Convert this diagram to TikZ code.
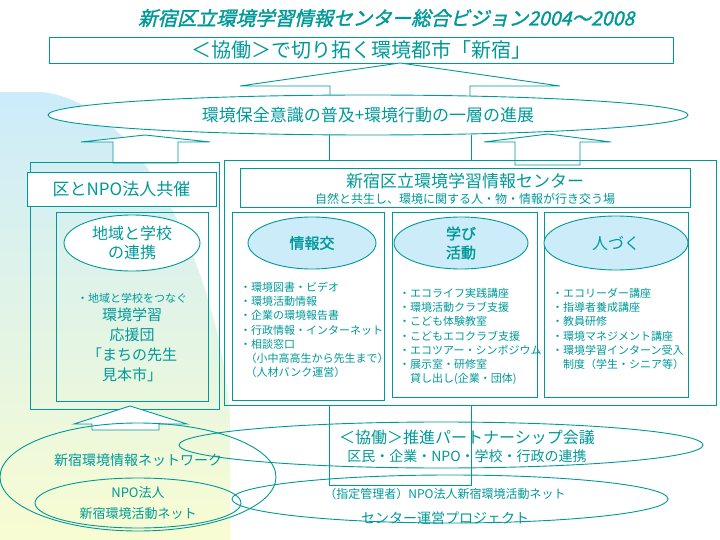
\documentclass[tikz,border=0pt]{standalone}
\usepackage{fontspec}
\usetikzlibrary{shapes.geometric}
\setmainfont{Noto Sans CJK JP}
\newfontfamily\jpb[FakeBold=1.5]{Noto Sans CJK JP}
\definecolor{tl}{HTML}{009999}
\definecolor{lb}{HTML}{CCECFA}
\definecolor{ly}{HTML}{F8FCD2}
\begin{document}
\begin{tikzpicture}[x=1pt,y=-1pt,
  ln/.style={draw=tl,line width=0.9pt},
  bx/.style={ln,fill=white},
  el/.style={ln,ellipse},
  tx/.style={text=tl,inner sep=0pt,align=center},
  ls/.style={text=tl,inner sep=0pt,align=left,anchor=north west,font=\fontsize{11}{14.2}\selectfont}]
\useasboundingbox (0,0) rectangle (720,540);
\fill[white] (0,0) rectangle (720,540);
\shade[top color=lb,bottom color=ly,middle color=lb!50!ly] (0,92) -- (40,92) .. controls (150,100) and (225,300) .. (230,420) -- (230,540) -- (0,540) -- cycle;
% title
\node[tx,font=\jpb\fontsize{19.5}{19.5}\selectfont,xslant=0.25,transform shape] (title) at (388,18) {新宿区立環境学習情報センター総合ビジョン2004～2008};
\node[bx,minimum width=624,minimum height=26,text=tl,font=\fontsize{20}{20}\selectfont] (top) at (361,50) {＜協働＞で切り拓く環境都市「新宿」};
% arrow 1
\draw[ln,fill=white] (400,63) -- (560,86) -- (470,86) -- (470,97) -- (330,97) -- (330,86) -- (240,86) -- cycle;
\node[el,fill=white,minimum width=640,minimum height=40,text=tl,font=\fontsize{17}{17}\selectfont] (vis) at (368,115) {環境保全意識の普及+環境行動の一層の進展};
% left arrow
\draw[ln,fill=white] (145,135) -- (210,142) -- (178,142) -- (178,163) -- (113,163) -- (113,142) -- (81,142) -- cycle;
% right arrow
\draw[ln,fill=white] (548,134) -- (611,142) -- (580,142) -- (580,165) -- (515,165) -- (515,142) -- (484,142) -- cycle;
% connectors from vis
\coordinate (c1) at (329,135);\coordinate (c2) at (471,135);
\draw[ln] (c1) -- (329,160) (c2) -- (471,160);
% left box
\draw[ln] (30,162) rectangle (219,409);
\node[bx,minimum width=189,minimum height=34,text=tl,font=\fontsize{17}{17}\selectfont] (kyo) at (121.5,189) {区とNPO法人共催};
\draw[ln] (56,212) rectangle (208,401);
\node[el,fill=white,minimum width=136,minimum height=56,tx,font=\fontsize{16}{19}\selectfont] (chi) at (132,243) {地域と学校\\の連携};
\node[tx,font=\fontsize{11}{11}\selectfont] (l1) at (132,298) {・地域と学校をつなぐ};
\node[tx,font=\fontsize{15}{20}\selectfont,anchor=north] (l2) at (132,308) {環境学習\\応援団\\「まちの先生\\見本市」};
% center box
\draw[ln] (224,160) rectangle (716,405);
\node[bx,minimum width=450,minimum height=39] (cen) at (465,187.5) {};
\node[tx,font=\fontsize{17}{17}\selectfont] (cen1) at (465,181) {新宿区立環境学習情報センター};
\node[tx,font=\fontsize{12}{12}\selectfont] (cen2) at (465,199) {自然と共生し、環境に関する人・物・情報が行き交う場};
\draw[ln] (232,212) rectangle (384,400);
\draw[ln] (392,212) rectangle (537,397);
\draw[ln] (544,212) rectangle (688,397);
\node[el,fill=lb,minimum width=128,minimum height=52,tx,font=\jpb\fontsize{15}{15}\selectfont] (e1) at (312,243) {情報交};
\node[el,fill=lb,minimum width=134,minimum height=52,tx,font=\jpb\fontsize{15}{19}\selectfont] (e2) at (461,243) {学び\\活動};
\node[el,fill=lb,minimum width=144,minimum height=54,tx,font=\fontsize{16}{16}\selectfont] (e3) at (616,243) {人づく};
\node[ls] (t1) at (240,282) {・環境図書・ビデオ\\・環境活動情報\\・企業の環境報告書\\・行政情報・インターネット\\・相談窓口\\\hspace*{0.5em}（小中高高生から先生まで）\\\hspace*{0.5em}（人材バンク運営）};
\node[ls] (t2) at (399,288) {・エコライフ実践講座\\・環境活動クラブ支援\\・こども体験教室\\・こどもエコクラブ支援\\・エコツアー・シンポジウム\\・展示室・研修室\\\hspace*{1em}貸し出し(企業・団体)};
\node[ls] (t3) at (552,288) {・エコリーダー講座\\・指導者養成講座\\・教員研修\\・環境マネジメント講座\\・環境学習インターン受入\\\hspace*{1em}制度（学生・シニア等）};
% bottom
\coordinate (d1) at (329,406);\coordinate (d2) at (471,406);
\draw[ln] (d1) -- (329,485) -- (471,485) -- (d2);
\draw[ln,fill=white] (130,406) -- (187,424) -- (159,424) -- (159,430) -- (92,430) -- (92,424) -- (74,424) -- cycle;
\node[el,minimum width=524,minimum height=46] (pk) at (441,445) {};
\node[el,minimum width=436,minimum height=48] (pj) at (450,499) {};
\node[el,minimum width=276,minimum height=108] (net) at (138,477) {};
\node[el,minimum width=206,minimum height=50] (npo) at (138,503) {};
\node[tx,font=\fontsize{16}{16}\selectfont] (pk1) at (467,437) {＜協働＞推進パートナーシップ会議};
\node[tx,font=\fontsize{14}{14}\selectfont] (pk2) at (467,456) {区民・企業・NPO・学校・行政の連携};
\node[tx,font=\fontsize{12}{12}\selectfont] (pj1) at (445,494) {（指定管理者）NPO法人新宿環境活動ネット};
\node[tx,font=\fontsize{14}{14}\selectfont] (pj2) at (445,518) {センター運営プロジェクト};
\node[tx,font=\fontsize{14}{14}\selectfont] (net1) at (138,460) {新宿環境情報ネットワーク};
\node[tx,font=\fontsize{13}{21}\selectfont] (npo1) at (138,503) {NPO法人\\新宿環境活動ネット};
\end{tikzpicture}
\end{document}
